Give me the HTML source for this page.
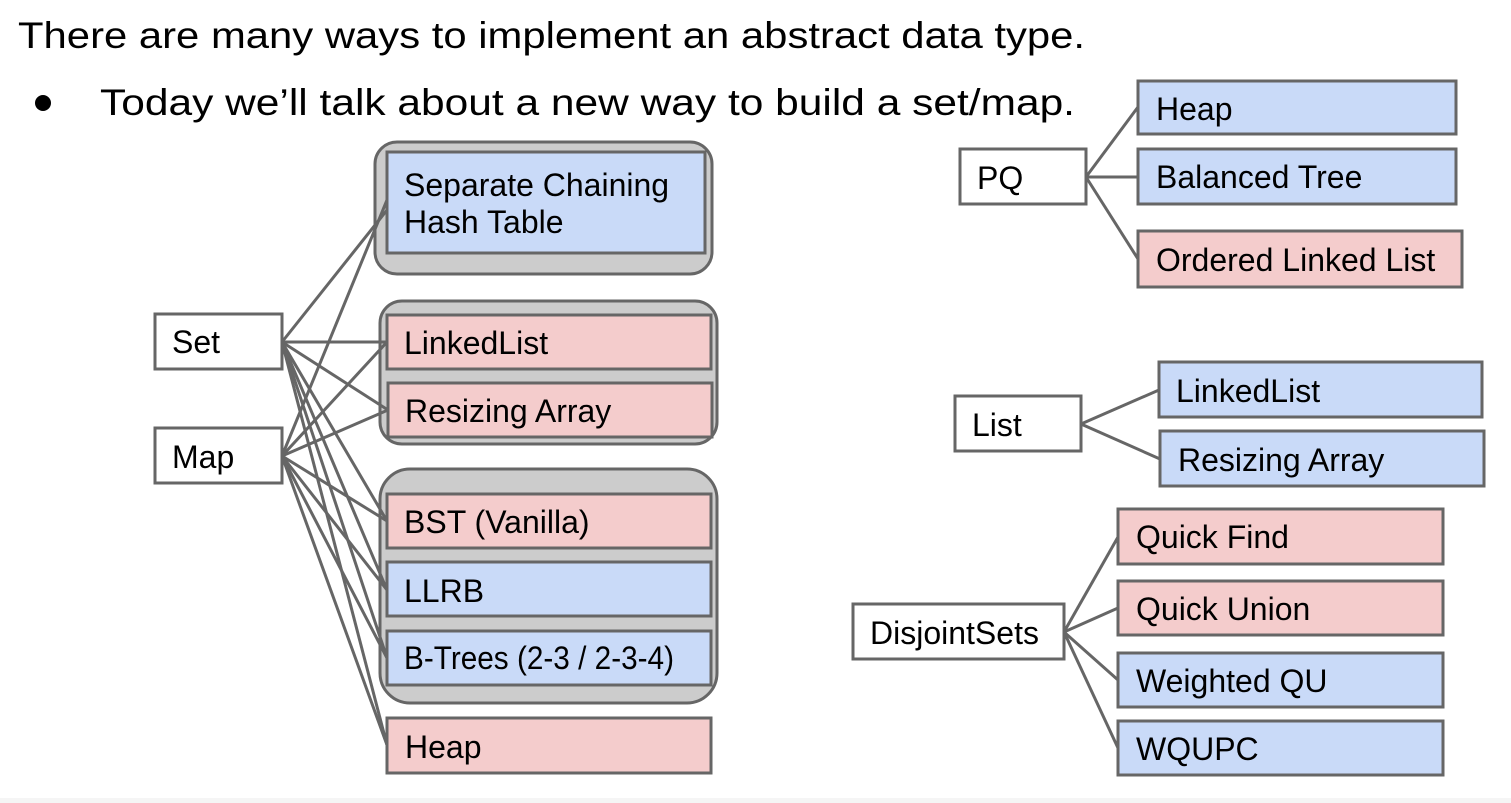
<!DOCTYPE html>
<html><head><meta charset="utf-8"><style>
html,body{margin:0;padding:0;background:#fff;}
svg{display:block;}
text{font-family:"Liberation Sans",Arial,sans-serif;fill:#000;}
.t{font-size:32px;}
.h{font-family:"Liberation Sans",sans-serif;font-size:37px;}
.b{stroke:#666;stroke-width:3;}
.w{fill:#fff}.bl{fill:#c9daf8}.pk{fill:#f4cccc}.g{fill:#cccccc}
line{stroke:#666;stroke-width:3;}
</style></head><body>
<svg width="1511" height="803" viewBox="0 0 1511 803" xmlns="http://www.w3.org/2000/svg">
<rect x="0" y="798" width="1511" height="5" fill="#f5f5f5"/>
<text class="h" x="18" y="48" textLength="1067" lengthAdjust="spacingAndGlyphs">There are many ways to implement an abstract data type.</text>
<circle cx="43" cy="103" r="8" fill="#000"/>
<text class="h" x="100" y="115" textLength="975" lengthAdjust="spacingAndGlyphs">Today we’ll talk about a new way to build a set/map.</text>

<rect class="b g" x="375" y="142" width="337" height="132" rx="22"/>
<rect class="b g" x="380" y="301" width="337" height="143" rx="22"/>
<rect class="b g" x="380" y="469" width="337" height="234" rx="30"/>

<g>
<line x1="282" y1="342" x2="387" y2="210"/>
<line x1="282" y1="342" x2="387" y2="342"/>
<line x1="282" y1="342" x2="388" y2="410"/>
<line x1="282" y1="342" x2="387" y2="521"/>
<line x1="282" y1="342" x2="387" y2="590"/>
<line x1="282" y1="342" x2="387" y2="658"/>
<line x1="282" y1="342" x2="387" y2="745"/>
<line x1="282" y1="456" x2="387" y2="200"/>
<line x1="282" y1="456" x2="387" y2="342"/>
<line x1="282" y1="456" x2="388" y2="410"/>
<line x1="282" y1="456" x2="387" y2="521"/>
<line x1="282" y1="456" x2="387" y2="590"/>
<line x1="282" y1="456" x2="387" y2="658"/>
<line x1="282" y1="456" x2="387" y2="745"/>
</g>

<rect class="b w" x="155" y="314" width="127" height="55"/><text class="t" x="172" y="353">Set</text>
<rect class="b w" x="155" y="428" width="127" height="55"/><text class="t" x="172" y="468">Map</text>

<rect class="b bl" x="387" y="152" width="318" height="101"/>
<text class="t" x="404" y="196">Separate Chaining</text><text class="t" x="404" y="233">Hash Table</text>
<rect class="b pk" x="387" y="315" width="324" height="54"/><text class="t" x="404" y="354">LinkedList</text>
<rect class="b pk" x="388" y="383" width="324" height="54"/><text class="t" x="405" y="422">Resizing Array</text>
<rect class="b pk" x="387" y="494" width="324" height="54"/><text class="t" x="404" y="533">BST (Vanilla)</text>
<rect class="b bl" x="387" y="562" width="324" height="54"/><text class="t" x="404" y="602">LLRB</text>
<rect class="b bl" x="387" y="631" width="324" height="54"/><text class="t" x="404" y="669" textLength="270" lengthAdjust="spacingAndGlyphs">B-Trees (2-3 / 2-3-4)</text>
<rect class="b pk" x="387" y="718" width="324" height="55"/><text class="t" x="405" y="758">Heap</text>

<line x1="1086" y1="177" x2="1138" y2="107"/>
<line x1="1086" y1="177" x2="1138" y2="177"/>
<line x1="1086" y1="177" x2="1138" y2="259"/>
<rect class="b w" x="960" y="149" width="126" height="55"/><text class="t" x="977" y="189">PQ</text>
<rect class="b bl" x="1138" y="81" width="318" height="53"/><text class="t" x="1156" y="120">Heap</text>
<rect class="b bl" x="1138" y="149" width="318" height="55"/><text class="t" x="1156" y="188">Balanced Tree</text>
<rect class="b pk" x="1138" y="231" width="324" height="56"/><text class="t" x="1156" y="271">Ordered Linked List</text>

<line x1="1081" y1="424" x2="1159" y2="390"/>
<line x1="1081" y1="424" x2="1160" y2="459"/>
<rect class="b w" x="955" y="396" width="126" height="55"/><text class="t" x="972" y="436">List</text>
<rect class="b bl" x="1159" y="362" width="323" height="55"/><text class="t" x="1176" y="402">LinkedList</text>
<rect class="b bl" x="1160" y="431" width="324" height="55"/><text class="t" x="1178" y="471">Resizing Array</text>

<line x1="1064" y1="632" x2="1118" y2="537"/>
<line x1="1064" y1="632" x2="1118" y2="608"/>
<line x1="1064" y1="632" x2="1118" y2="680"/>
<line x1="1064" y1="632" x2="1118" y2="748"/>
<rect class="b w" x="853" y="604" width="211" height="55"/><text class="t" x="870" y="644">DisjointSets</text>
<rect class="b pk" x="1118" y="509" width="325" height="55"/><text class="t" x="1136" y="548">Quick Find</text>
<rect class="b pk" x="1118" y="581" width="325" height="54"/><text class="t" x="1136" y="620">Quick Union</text>
<rect class="b bl" x="1118" y="653" width="325" height="54"/><text class="t" x="1136" y="692">Weighted QU</text>
<rect class="b bl" x="1118" y="721" width="325" height="54"/><text class="t" x="1136" y="760">WQUPC</text>
</svg>
</body></html>
